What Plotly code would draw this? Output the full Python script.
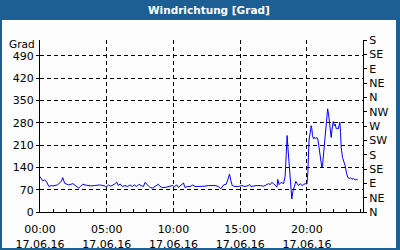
import plotly.graph_objects as go

times = ["00:00","00:12","00:21","00:30","00:40","00:50","00:58","01:18","01:36","01:42","01:51","02:09","02:28","02:48","02:54","03:03","03:12","03:28","03:48","04:06","04:28","04:43","05:00","05:09","05:18","05:36","05:45",
         "05:52","06:00","06:10","06:22","06:34","06:45","06:55","07:04","07:15","07:25","07:34","07:45","07:52","08:00","08:07","08:15","08:25","08:34","08:45","08:52","09:00","09:10","09:22","09:34","09:45","09:55","10:04","10:15","10:22","10:37","10:45","10:52","11:04","11:15",
         "11:27","11:37","11:52","12:07","12:22","12:37","12:52","13:07","13:22","13:33","13:45","13:57","14:04","14:12","14:18","14:24","14:37","14:52","15:07","15:22","15:37","15:42","15:48","16:00","16:15","16:30","16:45",
         "16:52","17:00","17:07","17:15","17:22","17:30","17:37","17:45","17:49","17:55","18:04","18:15","18:22","18:27","18:31","18:34","18:40","18:45","18:49","18:52","18:57","19:04","19:10","19:16","19:22","19:30","19:37","19:45","19:52",
         "20:00","20:04","20:07","20:10","20:15","20:19","20:22","20:25","20:30","20:34","20:40","20:45","20:49","20:55","21:00","21:04","21:07","21:10","21:15","21:19","21:25","21:30","21:33","21:37","21:42","21:46","21:49","21:52","21:58","22:03","22:07","22:12","22:16","22:21","22:25","22:28","22:31","22:34","22:40","22:46","22:52","22:58","23:04","23:10","23:16","23:22","23:30","23:37","23:45","23:48"]
values = [111,98,101,94,80,83,82,85,96,108,90,85,89,77,75,81,87,84,82,83,85,83,80,85,81,88,94,
          83,88,80,83,80,85,80,85,80,87,83,80,93,87,85,77,75,80,85,87,80,77,77,79,82,83,80,85,77,87,91,77,80,80,
          85,80,80,81,81,83,83,83,80,73,85,87,101,119,98,83,80,80,83,80,83,87,80,82,83,83,81,
          83,86,89,86,93,89,83,78,102,86,93,89,112,165,240,207,144,80,51,41,65,80,96,89,83,89,83,86,89,
          88,124,182,229,250,271,261,240,229,234,231,234,229,203,177,156,140,145,182,208,261,287,324,308,266,250,234,255,284,271,276,261,263,261,276,282,250,203,171,161,145,122,108,105,108,103,105,101,103,100]

date = "2016-06-17"
x_vals = [f"{date} {t}" for t in times]

left_ticks = [0, 70, 140, 210, 280, 350, 420, 490]
right_ticks = [0, 45, 90, 135, 180, 225, 270, 315, 360, 405, 450, 495, 540]
right_labels = ["N", "NE", "E", "SE", "S", "SW", "W", "NW", "N", "NE", "E", "SE", "S"]

title = "Windrichtung [Grad]"
y_unit = "Grad"

W, H = 400, 250
L, R, T, B = 40, 363, 40, 212  # plot area in pixels
def px(x): return (x - L) / (R - L)
def py(y): return (B - y) / (B - T)

FONT = "DejaVu Sans"
BLUE = "#1d5f95"
BG = "#fbfcfb"

fig = go.Figure()
fig.add_trace(go.Scatter(x=x_vals, y=values, mode="lines",
                         line=dict(color="#0000ff", width=1), showlegend=False, yaxis="y"))
fig.add_trace(go.Scatter(x=[x_vals[0]], y=[0], mode="lines", showlegend=False,
                         yaxis="y2", line=dict(color="rgba(0,0,0,0)"), hoverinfo="skip"))

fig.update_layout(
    width=W, height=H,
    margin=dict(l=L, r=W - R, t=T, b=H - B, pad=0, autoexpand=False),
    paper_bgcolor=BG, plot_bgcolor=BG,
    font=dict(family=FONT, size=11, color="black"),
    xaxis=dict(
        type="date", automargin=False,
        range=[f"{date} 00:00", "2016-06-18 00:12"],
        tickmode="linear", tick0=f"{date} 00:00", dtick=5 * 3600000,
        tickformat="%H:%M<br>%d.%m.%y",
        ticks="inside", ticklen=4, tickcolor="black",
        ticklabelstandoff=7,
        showline=True, linecolor="black", linewidth=1,
        showgrid=True, gridcolor="black", gridwidth=1, griddash="4px,3px",
        minor=dict(dtick=3600000, tick0=f"{date} 00:00", ticks="inside", ticklen=3,
                   tickcolor="black", showgrid=False),
        zeroline=False, tickfont=dict(size=11),
    ),
    yaxis=dict(
        range=[0, 540], tickmode="array", tickvals=left_ticks, automargin=False,
        ticks="outside", ticklen=3, tickcolor="black",
        showline=True, linecolor="black", linewidth=1,
        showgrid=True, gridcolor="black", gridwidth=1, griddash="4px,3px",
        zeroline=False, tickfont=dict(size=11),
    ),
    yaxis2=dict(
        range=[0, 540], overlaying="y", side="right", tickmode="array", automargin=False,
        tickvals=right_ticks, ticktext=right_labels,
        ticks="outside", ticklen=3, tickcolor="black",
        showline=True, linecolor="black", linewidth=1,
        showgrid=False, zeroline=False, tickfont=dict(size=11),
    ),
    shapes=[
        dict(type="rect", xref="paper", yref="paper", x0=px(-2), x1=px(402), y0=py(20), y1=py(-2),
             fillcolor=BLUE, line=dict(width=0), layer="above"),
        dict(type="rect", xref="paper", yref="paper", x0=px(-2), x1=px(2), y0=py(252), y1=py(-2),
             fillcolor=BLUE, line=dict(width=0), layer="above"),
        dict(type="rect", xref="paper", yref="paper", x0=px(396), x1=px(402), y0=py(252), y1=py(-2),
             fillcolor=BLUE, line=dict(width=0), layer="above"),
        dict(type="rect", xref="paper", yref="paper", x0=px(-2), x1=px(402), y0=py(252), y1=py(248),
             fillcolor=BLUE, line=dict(width=0), layer="above"),
    ],
    annotations=[
        dict(text=f"<b>{title}</b>", xref="paper", yref="paper", x=px(209), y=py(10),
             xanchor="center", yanchor="middle", showarrow=False,
             font=dict(family=FONT, size=10.5, color="white")),
        dict(text=y_unit, xref="paper", yref="paper", x=px(37), y=py(44),
             xanchor="right", yanchor="middle", showarrow=False,
             font=dict(family=FONT, size=10.5, color="black")),
    ],
)

fig.write_html("out.html")
